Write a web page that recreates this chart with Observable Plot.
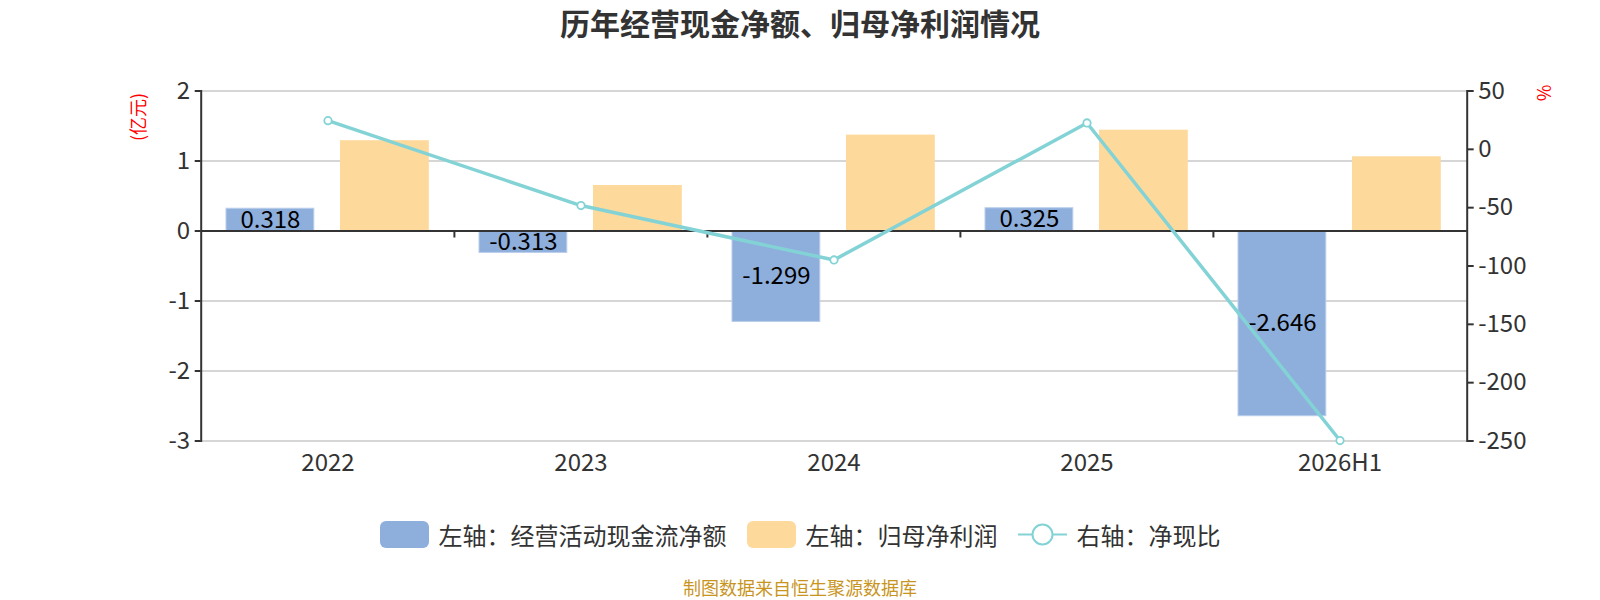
<!DOCTYPE html>
<html>
<head>
<meta charset="utf-8">
<script src="https://cdn.jsdelivr.net/npm/d3@7"></script>
<script src="https://cdn.jsdelivr.net/npm/@observablehq/plot@0.6"></script>
<style>
  body { margin: 0; background: #fff; font-family: "Noto Sans CJK SC", "Noto Sans", sans-serif; }
  #wrap { position: relative; width: 1600px; height: 600px; overflow: hidden; }
  #title { position: absolute; left: 0; width: 1600px; top: 0; height: 44px; line-height: 44px; text-align: center; font-size: 30px; font-weight: bold; color: #333; }
  #chart { position: absolute; left: 0; top: 50px; }
  #legend { position: absolute; left: 0; width: 1600px; top: 519px; height: 30px; display: flex; justify-content: center; align-items: center; font-size: 24px; color: #333; }
  .item { display: flex; align-items: center; margin: 0 10px; }
  .sw { width: 49px; height: 27px; border-radius: 6px; margin-right: 10px; }
  #caption { position: absolute; left: 0; width: 1600px; top: 576px; height: 22px; line-height: 22px; text-align: center; font-size: 18px; color: #c8951f; }
</style>
</head>
<body>
<div id="wrap">
  <div id="title">历年经营现金净额、归母净利润情况</div>
  <div id="chart"></div>
  <div id="legend">
    <div class="item"><div class="sw" style="background:#8eaedb"></div><span>左轴：经营活动现金流净额</span></div>
    <div class="item"><div class="sw" style="background:#fdd99b"></div><span>左轴：归母净利润</span></div>
    <div class="item">
      <svg width="49" height="27" style="margin-right:10px"><line x1="0" y1="13.5" x2="49" y2="13.5" stroke="#83d3d6" stroke-width="2"/><circle cx="24.5" cy="13.5" r="10" fill="#fff" stroke="#83d3d6" stroke-width="2"/></svg>
      <span>右轴：净现比</span>
    </div>
  </div>
  <div id="caption">制图数据来自恒生聚源数据库</div>
</div>
<script>
const categories = ["2022", "2023", "2024", "2025", "2026H1"];
const cashFlow = [0.318, -0.313, -1.299, 0.325, -2.646];
const netProfit = [1.29, 0.65, 1.37, 1.44, 1.06];
const cashRatio = [24.6, -48.2, -94.8, 22.6, -249.6];
const leftTicks = [-3, -2, -1, 0, 1, 2];
const rightTicks = [-250, -200, -150, -100, -50, 0, 50];

const W = 1600, H = 441, mL = 200.7, mR = 133.3, mT = 40.5, mB = 50.5;
const bw = (W - mL - mR) / categories.length;
const leftDom = [-3, 2], rightDom = [-250, 50];
const toLeft = v => leftDom[0] + (v - rightDom[0]) / (rightDom[1] - rightDom[0]) * (leftDom[1] - leftDom[0]);
const toRight = v => rightDom[0] + (v - leftDom[0]) / (leftDom[1] - leftDom[0]) * (rightDom[1] - rightDom[0]);

const cashData = categories.map((c, i) => ({c, v: cashFlow[i]}));
const profitData = categories.map((c, i) => ({c, v: netProfit[i]}));
const ratioData = categories.map((c, i) => ({c, v: toLeft(cashRatio[i])}));

const blueL = 25, blueW = 88, orL = 139, orW = 89;
const font = "Noto Sans CJK SC";

const plot = Plot.plot({
  width: W, height: H,
  marginLeft: mL, marginRight: mR, marginTop: mT, marginBottom: mB,
  style: {fontFamily: font, background: "#fff"},
  x: {type: "band", domain: categories, padding: 0, axis: null},
  y: {domain: leftDom, axis: null},
  marks: [
    Plot.gridY(leftTicks, {stroke: "#c8c8c8", strokeOpacity: 1, strokeWidth: 1.5}),
    Plot.barY(profitData, {x: "c", y: "v", fill: "#fdd99b", insetLeft: orL, insetRight: bw - orL - orW}),
    Plot.barY(cashData, {x: "c", y: "v", fill: "#8eaedb", stroke: "#b9cdeb", strokeWidth: 1, insetLeft: blueL, insetRight: bw - blueL - blueW}),
    Plot.ruleY([0], {stroke: "#333", strokeWidth: 2}),
    Plot.ruleX(categories.slice(1), {x: d => d, dx: -bw / 2, y1: 0, y2: -0.1, stroke: "#333", strokeWidth: 2}),
    Plot.text(cashData, {x: "c", y: d => d.v / 2, text: d => d.v.toFixed(3), dx: (blueL + blueL + blueW) / 2 - bw / 2, fill: "#000", fontSize: 24, fontFamily: font}),
    Plot.line(ratioData, {x: "c", y: "v", stroke: "#83d3d6", strokeWidth: 3.5}),
    Plot.dot(ratioData, {x: "c", y: "v", r: 3.7, fill: "#fff", stroke: "#83d3d6", strokeWidth: 1.8}),
    Plot.frame({anchor: "left", stroke: "#333", strokeWidth: 2}),
    Plot.frame({anchor: "right", stroke: "#333", strokeWidth: 2}),
    Plot.axisY({ticks: leftTicks, anchor: "left", tickSize: 6, tickPadding: 5, fontSize: 24, color: "#333", strokeWidth: 2, label: null, tickFormat: d => d}),
    Plot.axisY({ticks: rightTicks.map(toLeft), anchor: "right", tickSize: 6, tickPadding: 5, fontSize: 24, color: "#333", strokeWidth: 2, label: null, tickFormat: d => Math.round(toRight(d))}),
    Plot.axisX({anchor: "bottom", tickSize: 0, tickPadding: 13, fontSize: 24, color: "#333", label: null}),
    Plot.text(["(亿元)"], {frameAnchor: "top-left", textAnchor: "middle", lineAnchor: "middle", dx: -62, dy: 26, rotate: -90, fill: "#ff0000", fontSize: 18, fontFamily: font}),
    Plot.text(["%"], {frameAnchor: "top-right", textAnchor: "middle", lineAnchor: "middle", dx: 78, dy: 2, rotate: -90, fill: "#ff0000", fontSize: 18, fontFamily: font})
  ]
});
document.getElementById("chart").appendChild(plot);
</script>
</body>
</html>
